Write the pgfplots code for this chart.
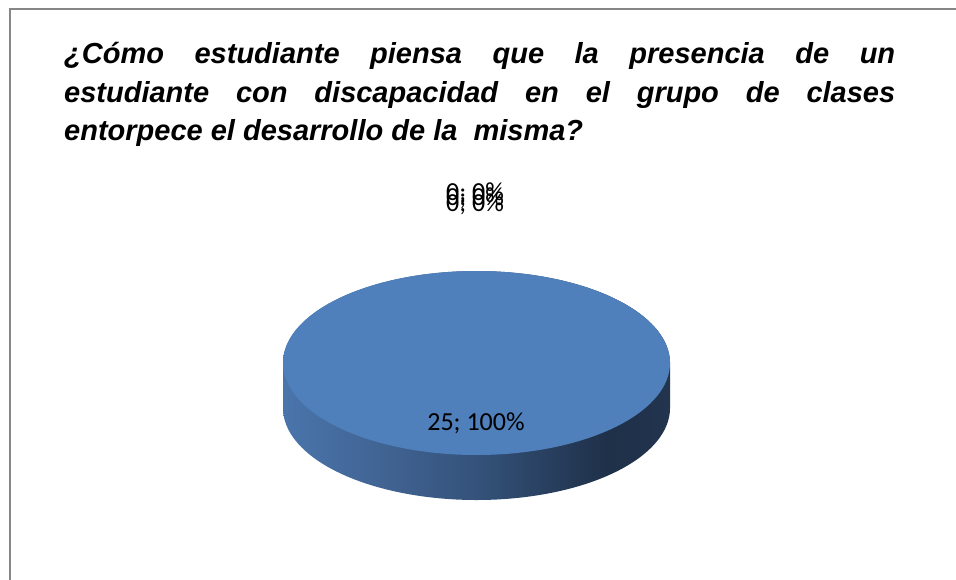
\documentclass[border=0pt]{standalone}
\usepackage{pgfplots}
\pgfplotsset{compat=1.18}
\usepackage{pgfplotstable}
\usepackage{fontspec}
\setmainfont{Liberation Sans}
\newfontfamily\calibri{Carlito}
\definecolor{pietop}{RGB}{79,128,188}
\definecolor{framegray}{RGB}{134,134,134}
\pgfdeclarehorizontalshading{pieside}{100bp}{%
  rgb(0bp)=(0.290,0.459,0.671);
  rgb(25bp)=(0.290,0.459,0.671);
  rgb(40bp)=(0.247,0.380,0.561);
  rgb(50bp)=(0.204,0.322,0.478);
  rgb(61bp)=(0.149,0.235,0.353);
  rgb(67bp)=(0.122,0.188,0.286);
  rgb(75bp)=(0.133,0.204,0.306);
  rgb(100bp)=(0.133,0.204,0.306)}
\pgfplotstableread{
cat value
1 25
2 0
3 0
4 0
}\piedata
\begin{document}
\begin{tikzpicture}
\pgfplotstablegetelem{0}{value}\of\piedata
\pgfmathsetmacro{\sliceA}{360*\pgfplotsretval/25}
\def\cx{476.5}
\def\cy{363}
\def\rx{193.5}
\def\ry{92}
\def\depth{45}
\begin{axis}[
  width=956bp, height=580bp, scale only axis,
  xmin=0, xmax=956, ymin=0, ymax=580, y dir=reverse,
  hide axis, clip=false, anchor=south west, at={(0,0)},
]
% frame
\draw[framegray, line width=2bp] (axis cs:9.5,580) -- (axis cs:9.5,9) -- (axis cs:956,9);
% title
\node[anchor=base west, inner sep=0pt, font=\fontsize{29bp}{38bp}\selectfont\bfseries\itshape]
  at (axis cs:64,63) {\makebox[831bp][s]{¿Cómo estudiante piensa que la presencia de un}};
\node[anchor=base west, inner sep=0pt, font=\fontsize{29bp}{38bp}\selectfont\bfseries\itshape]
  at (axis cs:64,102) {\makebox[831bp][s]{estudiante con discapacidad en el grupo de clases}};
\node[anchor=base west, inner sep=0pt, font=\fontsize{29bp}{38bp}\selectfont\bfseries\itshape]
  at (axis cs:64,140) {entorpece el desarrollo de la \ misma?};
% pie side (cylinder wall)
\addplot[shade, shading=pieside, draw=none, domain=0:\sliceA, samples=361]
  ({\cx+\rx*cos(x)},{\cy+\ry*sin(x)+\depth*(x<=180)});
% pie top face
\addplot[fill=pietop, draw=none, domain=0:\sliceA, samples=181]
  ({\cx+\rx*cos(x)},{\cy+\ry*sin(x)});
% data labels
\node[anchor=base, inner sep=0pt, font=\fontsize{26bp}{30bp}\selectfont\calibri] at (axis cs:476,430) {25; 100\%};
\node[anchor=base, inner sep=0pt, font=\fontsize{26bp}{30bp}\selectfont\calibri] at (axis cs:475,200) {0; 0\%};
\node[anchor=base, inner sep=0pt, font=\fontsize{26bp}{30bp}\selectfont\calibri] at (axis cs:475,205.5) {0; 0\%};
\node[anchor=base, inner sep=0pt, font=\fontsize{26bp}{30bp}\selectfont\calibri] at (axis cs:475,211) {0; 0\%};
\end{axis}
\pgfresetboundingbox
\path[use as bounding box] (0,0) rectangle (956bp,580bp);
\end{tikzpicture}
\end{document}
